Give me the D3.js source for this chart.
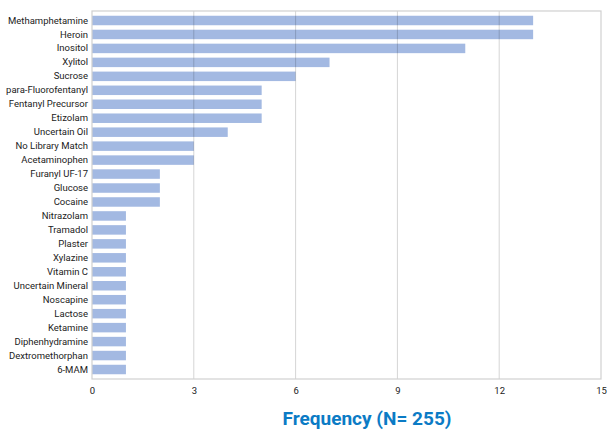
<!DOCTYPE html>
<html>
<head>
<meta charset="utf-8">
<script src="https://cdn.jsdelivr.net/npm/d3@7"></script>
<style>
  body { margin: 0; background: #fff; }
  svg { display: block; }
  .tick text { font-family: Roboto, "Liberation Sans", sans-serif; font-size: 9.5px; fill: #222; }
</style>
</head>
<body>
<svg id="chart"></svg>
<script>
// Datos
const categories = [
  "Methamphetamine", "Heroin", "Inositol", "Xylitol", "Sucrose",
  "para-Fluorofentanyl", "Fentanyl Precursor", "Etizolam", "Uncertain Oil",
  "No Library Match", "Acetaminophen", "Furanyl UF-17", "Glucose", "Cocaine",
  "Nitrazolam", "Tramadol", "Plaster", "Xylazine", "Vitamin C",
  "Uncertain Mineral", "Noscapine", "Lactose", "Ketamine",
  "Diphenhydramine", "Dextromethorphan", "6-MAM"
];
const counts = [13, 13, 11, 7, 6, 5, 5, 5, 4, 3, 3, 2, 2, 2, 1, 1, 1, 1, 1, 1, 1, 1, 1, 1, 1, 1];
const xTicks = [0, 3, 6, 9, 12, 15];
const xTitle = "Frequency (N= 255)";

const data = categories.map((c, i) => ({ name: c, value: counts[i] }));

// Configuración
const W = 608, H = 430;
const margin = { top: 11, right: 7, bottom: 51, left: 92 };
const width = W - margin.left - margin.right;
const height = H - margin.top - margin.bottom;

const svg = d3.select("#chart").attr("width", W).attr("height", H);
const g = svg.append("g").attr("transform", `translate(${margin.left},${margin.top})`);

// Escalas
const x = d3.scaleLinear().domain([0, 15]).range([0, width]);
const y = d3.scaleBand().domain(categories).range([0, height]).paddingInner(0.32).paddingOuter(0.34);

// Barras
g.selectAll(".bar")
  .data(data)
  .enter()
  .append("rect")
  .attr("class", "bar")
  .attr("x", 0)
  .attr("y", d => y(d.name))
  .attr("width", d => x(d.value))
  .attr("height", y.bandwidth())
  .attr("fill", "#a3b9e2");

// Rejilla encima de las barras
g.selectAll(".grid")
  .data(xTicks.slice(1, -1))
  .enter()
  .append("line")
  .attr("x1", d => x(d)).attr("x2", d => x(d))
  .attr("y1", 0).attr("y2", height)
  .attr("stroke", "#000")
  .attr("stroke-opacity", 0.17)
  .attr("stroke-width", 1);

// Marco
g.append("rect")
  .attr("x", 0).attr("y", 0)
  .attr("width", width).attr("height", height)
  .attr("fill", "none")
  .attr("stroke", "#d0d0d0")
  .attr("stroke-width", 1.2);

// Ejes
const yAxisG = g.append("g")
  .call(d3.axisLeft(y).tickSize(0).tickPadding(4));
yAxisG.select(".domain").remove();

const xAxisG = g.append("g")
  .attr("transform", `translate(0,${height})`)
  .call(d3.axisBottom(x).tickValues(xTicks).tickSize(0).tickPadding(8));
xAxisG.select(".domain").remove();

// Título del eje
svg.append("text")
  .attr("x", 367)
  .attr("y", 425)
  .attr("text-anchor", "middle")
  .attr("textLength", 169)
  .attr("lengthAdjust", "spacingAndGlyphs")
  .style("font-family", "Roboto, 'Liberation Sans', sans-serif")
  .style("font-weight", "bold")
  .style("font-size", "18.5px")
  .style("fill", "#0b7bc5")
  .text(xTitle);
</script>
</body>
</html>
